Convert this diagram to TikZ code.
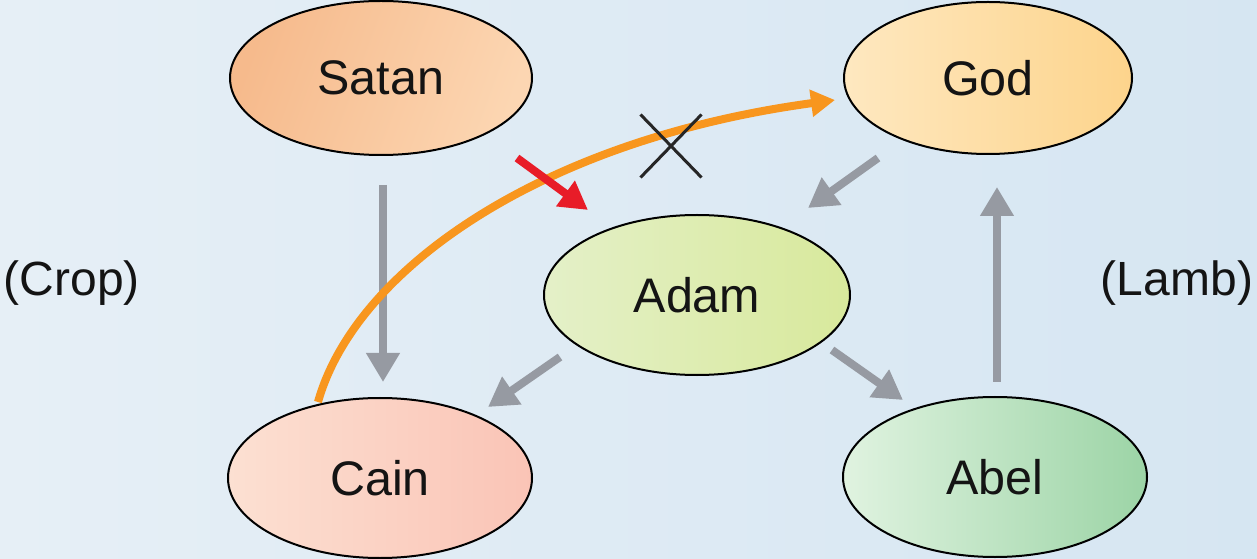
\documentclass[tikz,border=0pt]{standalone}
\usepackage{fontspec}
\setmainfont{Liberation Sans}
\usetikzlibrary{arrows.meta,calc,shapes.geometric,shapes.misc}
\definecolor{bgA}{RGB}{230,239,246}
\definecolor{bgB}{RGB}{214,230,242}
\definecolor{grayarr}{RGB}{150,154,162}
\definecolor{redarr}{RGB}{232,28,40}
\definecolor{orangearr}{RGB}{248,150,30}
\definecolor{txt}{RGB}{20,20,20}
\tikzset{
  oval/.style={ellipse, draw=black, line width=2bp, minimum width=304bp, minimum height=158bp, inner sep=0pt,
    font=\fontsize{48.5bp}{58bp}\selectfont, text=txt},
  side/.style={font=\fontsize{48bp}{58bp}\selectfont, text=txt, inner sep=0pt},
  grayarrow/.style={draw=grayarr, line width=8bp, -{Triangle[length=29bp,width=32bp]}},
  redarrow/.style={draw=redarr, line width=8bp, -{Triangle[length=28bp,width=30bp]}},
  orangearrow/.style={draw=orangearr, line width=8bp, -{Triangle[length=24bp,width=26bp]}},
}
\begin{document}
\begin{tikzpicture}[x=1bp,y=-1bp]
\shade[left color=bgA, right color=bgB] (0,0) rectangle (1257,559);
\useasboundingbox (0,0) rectangle (1257,559);

\node[oval, minimum width=302bp, minimum height=154bp, left color={rgb,255:red,246;green,186;blue,140}, right color={rgb,255:red,252;green,214;blue,178}, shading angle=70] (satan) at (381,78) {Satan};
\node[oval, minimum width=288bp, minimum height=152bp, left color={rgb,255:red,254;green,232;blue,192}, right color={rgb,255:red,253;green,212;blue,140}] (god) at (988,78) {God};
\node[oval, minimum width=306bp, minimum height=160bp, left color={rgb,255:red,228;green,240;blue,200}, right color={rgb,255:red,216;green,233;blue,156}] (adam) at (697,295) {Adam};
\node[oval, minimum width=304bp, minimum height=160bp, left color={rgb,255:red,252;green,224;blue,210}, right color={rgb,255:red,250;green,196;blue,182}] (cain) at (380,478) {Cain};
\node[oval, minimum width=304bp, minimum height=160bp, left color={rgb,255:red,224;green,243;blue,224}, right color={rgb,255:red,156;green,212;blue,166}] (abel) at (995,477) {Abel};

\node[side] (crop) at (72,283) {(Crop)};
\node[side] (lamb) at (1177,283) {(Lamb)};

% gray arrows
\draw[grayarrow] ($(satan)+(2,107)$) -- ($(cain)+(3,-96)$);
\draw[grayarrow] ($(god)+(-110,80)$) -- ($(adam)+(111,-87)$);
\draw[grayarrow] ($(adam)+(-137,62)$) -- ($(cain)+(108,-71)$);
\draw[grayarrow] ($(adam)+(135,55)$) -- ($(abel)+(-92,-77)$);
\draw[grayarrow] ($(abel)+(2,-95)$) -- ($(god)+(9,109)$);

% orange curve
\draw[orangearrow] ($(cain)+(-62,-76)$) .. controls (355,270) and (540,140) .. ($(god)+(-153,22)$);

% red arrow
\draw[redarrow] ($(satan)+(136,80)$) -- ($(adam)+(-109,-85)$);

% cross
\node[cross out, draw=black!85, line width=3bp, minimum width=58bp, minimum height=60bp, inner sep=0pt] (xmark) at (671,146) {};
\end{tikzpicture}
\end{document}
